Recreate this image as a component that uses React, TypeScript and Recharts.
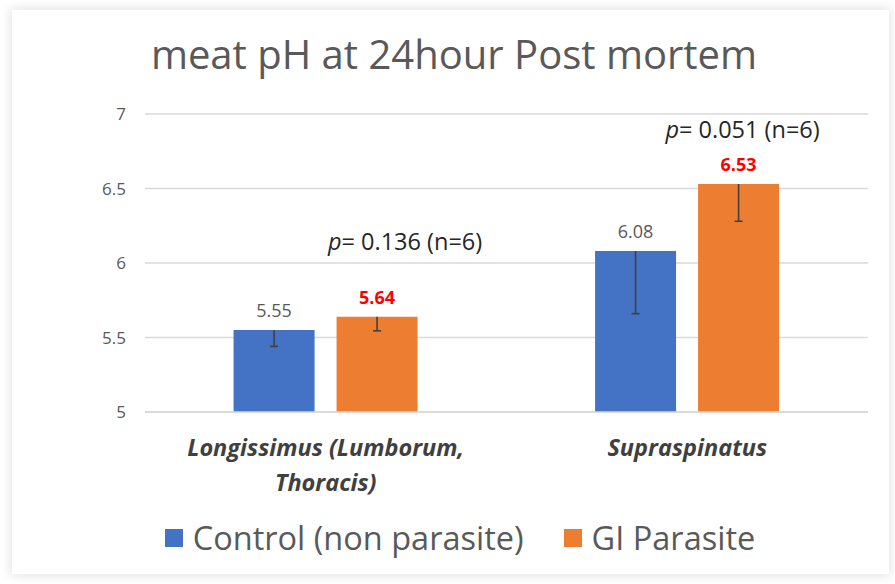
import * as React from 'react'
import { BarChart, Bar, XAxis, YAxis, CartesianGrid, LabelList } from 'recharts'

const muscles = ['Longissimus (Lumborum, Thoracis)', 'Supraspinatus']
const tickLines = [['Longissimus (Lumborum,', 'Thoracis)'], ['Supraspinatus']]
const controlPH = [5.55, 6.08]
const parasitePH = [5.64, 6.53]
const controlErr = [0.11, 0.42]
const parasiteErr = [0.095, 0.25]
const pValues = ['0.136', '0.051']
const sampleN = [6, 6]
const yTicks = [5, 5.5, 6, 6.5, 7]
const Y_MIN = 5

const BLUE = '#4472C4'
const ORANGE = '#ED7D31'
const FONT = '"Open Sans", "Noto Sans", sans-serif'

const rows = muscles.map((m, i) => ({
    muscle: m,
    control: controlPH[i],
    parasite: parasitePH[i],
    controlErr: controlErr[i],
    parasiteErr: parasiteErr[i],
    p: pValues[i],
    n: sampleN[i],
}))

function MuscleTick(props: any) {
    const { x, y, payload, index } = props
    const lines = tickLines[index] ?? [payload.value]
    return (
        <text x={x} y={y + 36} textAnchor="middle" fontFamily={FONT} fontSize={23.5} fontWeight={700} fontStyle="italic" fill="#404040">
            {lines.map((l, i) => (<tspan key={i} x={x} dy={i === 0 ? 0 : 35}>{l}</tspan>))}
        </text>
    )
}

// minus-only error bar, scaled from the bar's own pixel height
function MinusErr(props: any) {
    const { x, y, width, height, value } = props
    const pxPerUnit = height / (props.barValue - Y_MIN)
    const cx = x + width / 2
    const y2 = y + value * pxPerUnit
    return (
        <g stroke="#404040" strokeWidth={1.6}>
            <line x1={cx} x2={cx} y1={y} y2={y2} />
            <line x1={cx - 4} x2={cx + 4} y1={y2} y2={y2} />
        </g>
    )
}

function ErrFor(key: 'control' | 'parasite') {
    return (props: any) => <MinusErr {...props} barValue={rows[props.index][key]} />
}

// p-value note above the parasite bar of each group
function PNote(props: any) {
    const { x, y, width, index } = props
    const r = rows[index]
    const shift = index === 0 ? [28, -67] : [4, -46]
    return (
        <text x={x + width / 2 + shift[0]} y={y + shift[1]} textAnchor="middle" fontFamily={FONT} fontSize={23.5} fill="#262626">
            <tspan fontStyle="italic">p</tspan>{`= ${r.p} (n=${r.n})`}
        </text>
    )
}

function LegendBox() {
    const items = [{ c: BLUE, t: 'Control (non parasite)' }, { c: ORANGE, t: 'GI Parasite' }]
    return (
        <div style={{ position: 'absolute', left: 0, top: 515, width: 920, display: 'flex', justifyContent: 'center', gap: 40, fontFamily: FONT, fontSize: 32.5, color: '#595959' }}>
            {items.map(it => (
                <div key={it.t} style={{ display: 'flex', alignItems: 'center', gap: 10 }}>
                    <span style={{ width: 18, height: 18, background: it.c, display: 'inline-block' }} />
                    <span>{it.t}</span>
                </div>
            ))}
        </div>
    )
}

export default function App() {
    return (
        <div style={{ position: 'absolute', left: 0, top: 0, width: 895, height: 584, background: '#fff', overflow: 'hidden' }}>
            <div style={{ position: 'absolute', left: 12, top: 10, right: 6, bottom: 10, boxShadow: '0 0 10px 2px rgba(0,0,0,0.10)', background: '#fff' }} />
            <div style={{ position: 'absolute', left: 0, top: 26, width: 908, textAlign: 'center', fontFamily: FONT, fontSize: 40, color: '#595959' }}>
                meat pH at 24hour Post mortem
            </div>
            <BarChart width={895} height={584} data={rows} margin={{ top: 114, right: 27, bottom: 80, left: 100 }}
                barCategoryGap="24.5%" barGap={22} style={{ position: 'absolute', left: 0, top: 0 }}>
                <CartesianGrid vertical={false} stroke="#d9d9d9" strokeWidth={1.5} />
                <XAxis dataKey="muscle" axisLine={{ stroke: '#d9d9d9', strokeWidth: 1.5 }} tickLine={false} tick={<MuscleTick />} height={92} interval={0} />
                <YAxis domain={[Y_MIN, 7]} ticks={yTicks} width={45} axisLine={false} tickLine={false}
                    tick={{ fontFamily: FONT, fontSize: 17, fill: '#595959' }} tickMargin={13} />
                <Bar dataKey="control" name="Control (non parasite)" fill={BLUE} isAnimationActive={false}>
                    <LabelList dataKey="controlErr" content={ErrFor('control')} />
                    <LabelList dataKey="control" position="top" offset={13} fontFamily={FONT} fontSize={18} fill="#595959" />
                </Bar>
                <Bar dataKey="parasite" name="GI Parasite" fill={ORANGE} isAnimationActive={false}>
                    <LabelList dataKey="parasiteErr" content={ErrFor('parasite')} />
                    <LabelList dataKey="parasite" position="top" offset={13} fontFamily={FONT} fontSize={18} fontWeight={700} fill="#FF0000" />
                    <LabelList dataKey="p" content={<PNote />} />
                </Bar>
            </BarChart>
            <LegendBox />
        </div>
    )
}
